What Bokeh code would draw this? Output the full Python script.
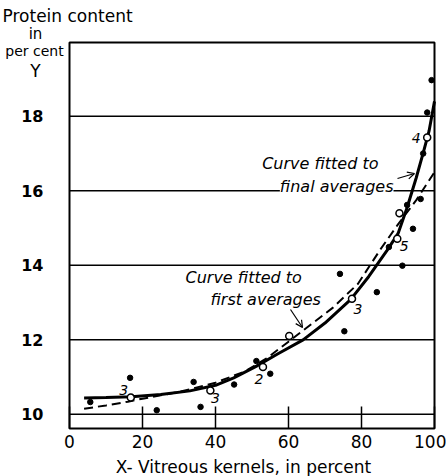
from bokeh.plotting import figure
from bokeh.models import ColumnDataSource, Label, Arrow, OpenHead, Range1d, FixedTicker
from bokeh.core.properties import value
from bokeh.embed import file_html
from bokeh.resources import INLINE

# ---- data ----
solid_x = [4, 10, 17, 25, 33, 40, 45, 51, 57, 64, 70, 77, 82, 87, 90, 92.5, 95, 97, 98.5, 100]
solid_y = [10.44, 10.45, 10.47, 10.53, 10.63, 10.78, 10.98, 11.28, 11.62, 12.0, 12.45, 13.08, 13.7, 14.4, 14.85, 15.55, 16.35, 17.05, 17.6, 18.4]

dash_x = [4, 10, 16, 20, 30, 40, 48, 54, 60, 64, 72, 79, 85, 90, 95, 100]
dash_y = [10.15, 10.24, 10.34, 10.42, 10.6, 10.85, 11.15, 11.5, 11.95, 12.25, 12.85, 13.5, 14.4, 15.1, 15.75, 16.5]

obs_x = [5.7, 16.6, 23.9, 34.0, 35.9, 45.1, 51.2, 55.0, 74.1, 75.3, 84.2, 87.5, 91.2, 92.5, 94.1, 96.2, 96.9, 98.0, 99.2]
obs_y = [10.33, 10.98, 10.11, 10.87, 10.2, 10.80, 11.43, 11.09, 13.77, 12.23, 13.28, 14.49, 13.99, 15.62, 14.98, 15.78, 17.0, 18.10, 18.97]

avg_x = [16.8, 38.6, 53.0, 77.4, 89.8, 98.0]
avg_y = [10.45, 10.64, 11.27, 13.10, 14.71, 17.43]
avg_n = ["3", "3", "2", "3", "5", "4"]

first_x = [60.2, 90.4]
first_y = [12.10, 15.40]

x_ticks = [0, 20, 40, 60, 80, 100]
y_ticks = [10, 12, 14, 16, 18]

# ---- styling / layout ----
n_dx = [-7, 5, -4, 6, 7, -11]
n_dy = [-8, 8, 12, 10, 7, 0]
FONT = "DejaVu Sans"
X_LO, X_HI = 0, 100          # plot box (x)
Y_LO, Y_HI = 9.62, 19.98     # plot box (y), broken-axis bottom
W, H = 446, 476
BOX_L, BOX_R, BOX_T, BOX_B = 69, 434, 42, 428   # box in canvas pixels
sx = (BOX_R - BOX_L) / (X_HI - X_LO)
sy = (BOX_B - BOX_T) / (Y_HI - Y_LO)

def px2x(px):
    return X_LO + (px - BOX_L) / sx

def py2y(py):
    return Y_LO + (BOX_B - py) / sy

p = figure(width=W, height=H,
           x_range=Range1d(px2x(0), px2x(W)), y_range=Range1d(py2y(H), py2y(0)),
           output_backend="svg", toolbar_location=None,
           min_border_left=0, min_border_right=0, min_border_top=0, min_border_bottom=0)

p.outline_line_color = None
p.background_fill_color = "white"
p.border_fill_color = "white"
p.xgrid.visible = False
p.ygrid.visible = False

# axes fixed on the plot box edges
p.xaxis.fixed_location = Y_LO
p.xaxis.ticker = FixedTicker(ticks=x_ticks)
p.xaxis.axis_line_color = None
p.xaxis.major_tick_in = 22
p.xaxis.major_tick_out = 0
p.xaxis.minor_tick_line_color = None
p.xaxis.major_tick_line_width = 1.5
p.xaxis.major_label_standoff = 6
p.xaxis.major_label_text_font = FONT
p.xaxis.major_label_text_font_size = "17px"
p.xaxis.major_label_text_color = "black"

p.yaxis.fixed_location = X_LO
p.yaxis.ticker = FixedTicker(ticks=y_ticks)
p.yaxis.axis_line_color = None
p.yaxis.major_tick_in = 0
p.yaxis.major_tick_out = 0
p.yaxis.minor_tick_line_color = None
p.yaxis.major_label_standoff = 26
p.yaxis.major_label_text_font = FONT
p.yaxis.major_label_text_font_size = "16px"
p.yaxis.major_label_text_font_style = "bold"
p.yaxis.major_label_text_color = "black"

# horizontal rulings and the box
p.segment(x0=[x_ticks[0]] * len(y_ticks), x1=[x_ticks[-1]] * len(y_ticks),
          y0=y_ticks, y1=y_ticks, line_color="black", line_width=1.5)
p.quad(left=X_LO, right=X_HI, bottom=Y_LO, top=Y_HI, fill_color=None,
       line_color="black", line_width=2)

# curves
p.line(solid_x, solid_y, line_color="black", line_width=3)
p.line(dash_x, dash_y, line_color="black", line_width=2, line_dash="9 5")

# observations
p.scatter(obs_x, obs_y, size=5.5, color="black")
# averages
p.scatter(avg_x, avg_y, size=7, marker="circle", fill_color="white", line_color="black", line_width=1.5)
p.scatter(first_x, first_y, size=7, marker="circle", fill_color="white", line_color="black", line_width=1.5)

src = ColumnDataSource(dict(x=avg_x, y=avg_y, t=avg_n, dx=n_dx, dy=n_dy))
p.text(x="x", y="y", text="t", source=src, x_offset="dx", y_offset="dy",
       text_font=value(FONT), text_font_style="italic", text_font_size="14px",
       text_align="center", text_baseline="middle", text_color="black")

def lab(px, py, t, align="left", size="15px", style="normal", bg=None):
    l = Label(x=px2x(px), y=py2y(py), text=t, text_align=align, text_baseline="middle",
              text_font=FONT, text_font_size=size, text_font_style=style, text_color="black")
    if bg:
        l.background_fill_color = bg
    p.add_layout(l)

# y title
lab(2, 15, "Protein content", "left", "17px")
lab(35, 33, "in", "center", "15px")
lab(34, 50, "per cent", "center", "14px")
lab(35, 70, "Y", "center", "17px")
# x title
lab(243, 466, "X- Vitreous kernels, in percent", "center", "17px")

# annotations
lab(378, 163, "Curve fitted to", "right", "16px", "italic")
lab(393, 186, "final averages", "right", "16px", "italic", "white")
lab(185, 277, "Curve fitted to", "left", "16px", "italic")
lab(210, 299, "first averages", "left", "16px", "italic")

p.add_layout(Arrow(end=OpenHead(size=7, line_width=1.2), x_start=px2x(397), y_start=py2y(178),
                   x_end=px2x(414), y_end=py2y(173), line_width=1.2))
p.add_layout(Arrow(end=OpenHead(size=7, line_width=1.2), x_start=px2x(290), y_start=py2y(309),
                   x_end=px2x(302), y_end=py2y(327), line_width=1.2))

open("out.html", "w").write(file_html(p, INLINE))
